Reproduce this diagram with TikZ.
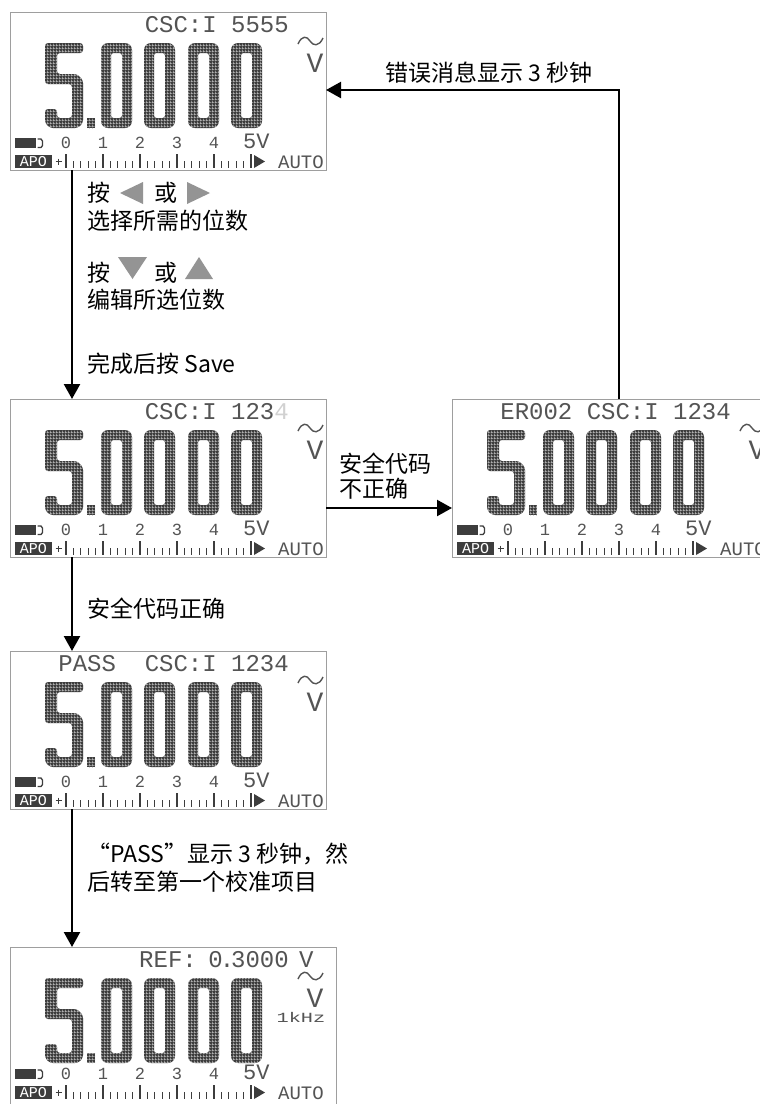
\documentclass[tikz,border=0pt]{standalone}
\usepackage{fontspec}
\usepackage{graphicx}
\usetikzlibrary{arrows.meta,patterns}
\newfontfamily\cjk{Noto Sans CJK SC}
\newfontfamily\lcdf{Liberation Mono}
\definecolor{lcdink}{gray}{0.24}
\definecolor{lcdtxt}{gray}{0.33}
\definecolor{lcdgap}{gray}{0.74}
\definecolor{framegray}{gray}{0.62}
\definecolor{keygray}{gray}{0.58}
\pgfdeclarepatternformonly{lcdgrid}{\pgfqpoint{-0.5pt}{-0.5pt}}{\pgfqpoint{2.5pt}{2.5pt}}{\pgfqpoint{3pt}{3pt}}{%
  \pgfsetlinewidth{0.7pt}%
  \pgfpathmoveto{\pgfqpoint{0pt}{-0.5pt}}\pgfpathlineto{\pgfqpoint{0pt}{2.5pt}}%
  \pgfpathmoveto{\pgfqpoint{-0.5pt}{0pt}}\pgfpathlineto{\pgfqpoint{2.5pt}{0pt}}%
  \pgfusepath{stroke}}
\tikzset{
 screen/.style={draw=framegray, line width=0.9pt, fill=white, inner sep=0pt, outer sep=0pt, anchor=north west, minimum height=158pt},
 conn/.style={line width=2.3pt, -{Triangle[length=15pt,width=16pt]}},
 lbl/.style={font=\cjk\fontsize{23}{23}\selectfont, inner sep=0pt, anchor=west},
 lcdtop/.style={font=\lcdf\fontsize{24}{24}\selectfont, text=lcdtxt, inner sep=0pt},
 lcdsm/.style={font=\lcdf\fontsize{17}{17}\selectfont, text=lcdtxt, inner sep=0pt, anchor=base},
 lcdmid/.style={font=\lcdf\fontsize{22}{22}\selectfont, text=lcdtxt, inner sep=0pt},
 key/.style={fill=keygray},
}
\newcommand\lcdshape[1]{\fill[lcdink,even odd rule] #1; \fill[pattern=lcdgrid,pattern color=lcdgap,even odd rule] #1;}
\newcommand\lcdzero[1]{\lcdshape{[rounded corners=7pt] (#1,31) rectangle ++(31,85) [rounded corners=2.5pt] (#1+10,41) rectangle ++(11,65)}}
% #1: name prefix, #2: upward shift of the two bottom rows
\newcommand\lcdbody[2]{%
 \lcdshape{[rounded corners=3pt] (35,31) -- (73,31) -- (73,41) -- (47,41) -- (47,62) -- (67,62) -- (73,68) -- (73,111) -- (68,116) -- (40,116) -- (35,111) -- (35,97) -- (47,97) -- (47,106) -- (62,106) -- (62,72) -- (35,72) -- cycle}
 \lcdshape{(77,106) rectangle (85,116)}
 \lcdzero{91}\lcdzero{134}\lcdzero{178}\lcdzero{221}
 \draw[lcdtxt, line width=1.4pt] (288,32) .. controls (292,23) and (297,24) .. (300,29) .. controls (303,34) and (309,35) .. (313,26);
 \node[lcdtop, font=\lcdf\fontsize{28}{28}\selectfont, anchor=base] (#1-v) at (305,60) {V};
 \begin{scope}[shift={(0,-#2)}]
 \fill[lcdink] (5,126) rectangle (26,136);
 \draw[lcdink, line width=1.3pt] (27.5,127) -- (31,127) -- (32.5,129) -- (32.5,133.5) -- (31,135.5) -- (27.5,135.5);
 \foreach \i in {0,...,4} \node[lcdsm] (#1-l\i) at (56+37*\i,136) {\i};
 \node[lcdmid, anchor=base west] (#1-5v) at (233,136) {5V};
 \fill[lcdink] (5,143) rectangle (42,156);
 \node[lcdsm, font=\lcdf\fontsize{15}{15}\selectfont, text=white, anchor=center] (#1-apo) at (23.5,149.5) {APO};
 \draw[lcdink, line width=1pt] (45.5,149.5) -- (51.5,149.5) (48.5,146.5) -- (48.5,152.5);
 \foreach \i in {0,...,5} \draw[lcdink, line width=1.5pt] (56+37*\i,142) -- (56+37*\i,156);
 \foreach \i in {0,...,4} \foreach \j in {1,...,4} \draw[lcdink, line width=1.2pt] (56+37*\i+7.4*\j,149) -- (56+37*\i+7.4*\j,156);
 \fill[lcdink] (244,143) -- (255,149.5) -- (244,156) -- cycle;
 \node[lcdmid, font=\lcdf\fontsize{19}{19}\selectfont, anchor=base] (#1-auto) at (291,156) {AUTO};
 \end{scope}
}
\begin{document}
\begin{tikzpicture}[x=1pt,y=-1pt]
\useasboundingbox (0,0) rectangle (760,1104);
\fill[white] (0,0) rectangle (760,1104);
\clip (0,0) rectangle (760,1104);
% screens
\node[screen, minimum width=316pt] (s1) at (10,12) {};
\node[screen, minimum width=316pt] (s2) at (10,399) {};
\node[screen, minimum width=316pt] (s3) at (452,399) {};
\node[screen, minimum width=316pt] (s4) at (10,651) {};
\node[screen, minimum width=326pt] (s5) at (10,947) {};
\begin{scope}[shift={(s1.north west)}]
 \lcdbody{s1}{0}
 \node[lcdtop, anchor=base east] (s1-top) at (279,20) {CSC:I 5555};
\end{scope}
\begin{scope}[shift={(s2.north west)}]
 \lcdbody{s2}{0}
 \node[lcdtop, anchor=base east] (s2-top) at (279,20) {CSC:I 123{\color{black!18}4}};
\end{scope}
\begin{scope}[shift={(s3.north west)}]
 \lcdbody{s3}{0}
 \node[lcdtop, anchor=base east] (s3-top) at (279,20) {ER002 CSC:I 1234};
\end{scope}
\begin{scope}[shift={(s4.north west)}]
 \lcdbody{s4}{0}
 \node[lcdtop, anchor=base east] (s4-top) at (279,20) {PASS\ \ CSC:I 1234};
\end{scope}
\begin{scope}[shift={(s5.north west)}]
 \lcdbody{s5}{4}
 \node[lcdtop, anchor=base west] (s5-ref) at (129,20) {REF:};
 \node[lcdtop, anchor=base east] (s5-val) at (279,20) {0\hspace{-3pt}.\hspace{-3pt}3000};
 \node[lcdtop, anchor=base west] (s5-unit) at (289,20) {V};
 \node[lcdsm, font=\lcdf\fontsize{14}{14}\selectfont] (s5-khz) at (291,75) {\scalebox{1.45}[1]{1kHz}};
\end{scope}
% helper coordinates
\coordinate (ax) at (72,0);
\coordinate (hy) at (0,508);
\coordinate (fx) at (619,0);
\coordinate (fy) at (0,90);
% connectors
\draw[conn] (s1.south -| ax) -- (s2.north -| ax);
\draw[conn] (s2.south -| ax) -- (s4.north -| ax);
\draw[conn] (s4.south -| ax) -- (s5.north -| ax);
\draw[conn] (s2.east |- hy) -- (s3.west |- hy);
\draw[conn] (s3.north -| fx) -- (fx |- fy) -- (s1.east |- fy);
% labels
\node[lbl] (t1a) at (87,192.5) {按};
\fill[key] (120,193) -- (143,182) -- (143,204) -- cycle;
\node[lbl] (t1b) at (154,192.5) {或};
\fill[key] (187,182) -- (210,193) -- (187,204) -- cycle;
\node[lbl] (t2) at (87,221) {选择所需的位数};
\node[lbl] (t3a) at (87,273) {按};
\fill[key] (118,257) -- (147,257) -- (132.5,279) -- cycle;
\node[lbl] (t3b) at (154,273) {或};
\fill[key] (185,279) -- (213,279) -- (199,257) -- cycle;
\node[lbl] (t4) at (87,300) {编辑所选位数};
\node[lbl] (t5) at (87,364) {完成后按 Save};
\node[lbl] (t6) at (339,464) {安全代码};
\node[lbl] (t7) at (339,489) {不正确};
\node[lbl] (t8) at (87,609) {安全代码正确};
\node[lbl] (t9) at (87,854) {“PASS”显示 3 秒钟，然};
\node[lbl] (t10) at (87,882) {后转至第一个校准项目};
\node[lbl] (t11) at (385,73) {错误消息显示 3 秒钟};
\end{tikzpicture}
\end{document}
